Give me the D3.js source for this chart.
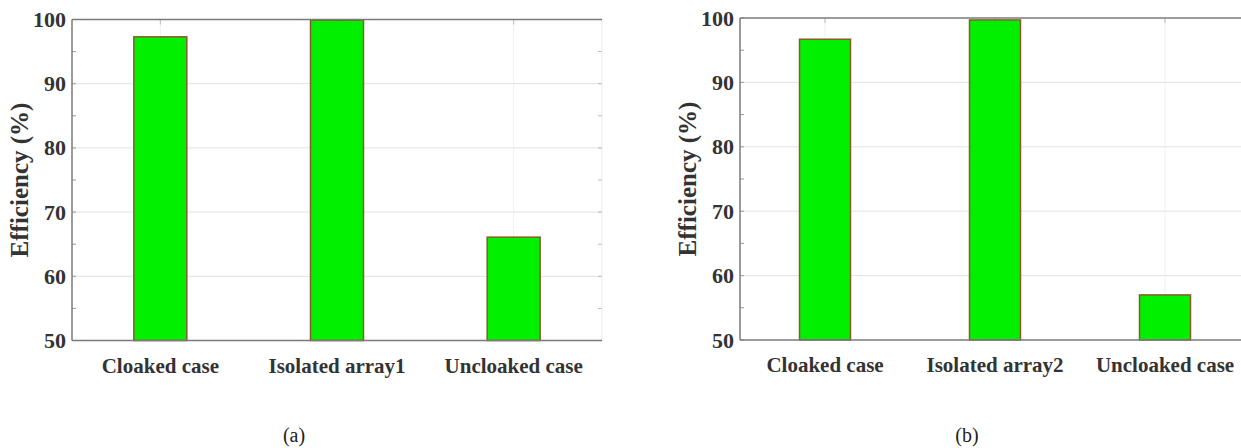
<!DOCTYPE html>
<html><head><meta charset="utf-8">
<script src="https://cdn.jsdelivr.net/npm/d3@7"></script>
<style>body{margin:0;background:#fff}svg{display:block}</style>
</head><body>
<svg id="chart" width="1241" height="448"></svg>
<script>
const categoriesA = ["Cloaked case", "Isolated array1", "Uncloaked case"];
const valuesA = [97.3, 99.9, 66.1];
const categoriesB = ["Cloaked case", "Isolated array2", "Uncloaked case"];
const valuesB = [96.7, 99.7, 57.0];
const yTicks = [50, 60, 70, 80, 90, 100];
const yTitle = "Efficiency (%)";
const captions = ["(a)", "(b)"];

const svg = d3.select("#chart");
const font = "'Liberation Serif','Times New Roman',serif";

function panel(cats, vals, box, caption, capX) {
  const g = svg.append("g");
  const x = d3.scaleBand().domain(cats).range([box.l, box.r]).paddingInner(0.7).paddingOuter(0.35);
  const y = d3.scaleLinear().domain([50, 100]).range([box.b, box.t]);
  g.selectAll(".hg").data(yTicks.filter(d => d > 50 && d < 100)).enter().append("line")
    .attr("x1", box.l).attr("x2", box.r).attr("y1", d => y(d)).attr("y2", d => y(d))
    .attr("stroke", "#e2e2e2").attr("stroke-width", 1);
  g.selectAll(".vg").data(cats).enter().append("line")
    .attr("x1", d => x(d) + x.bandwidth() / 2).attr("x2", d => x(d) + x.bandwidth() / 2)
    .attr("y1", box.t).attr("y2", box.b).attr("stroke", "#f0f0f0").attr("stroke-width", 1);
  g.append("line").attr("x1", box.r).attr("x2", box.r).attr("y1", box.t).attr("y2", box.b)
    .attr("stroke", "#ececec");
  const minor = d3.range(50, 100.01, 5);
  g.selectAll(".mt").data(minor).enter().append("line")
    .attr("x1", box.l).attr("x2", box.l + 4).attr("y1", d => y(d)).attr("y2", d => y(d))
    .attr("stroke", "#999");
  g.selectAll(".mtr").data(minor).enter().append("line")
    .attr("x1", box.r - 4).attr("x2", box.r).attr("y1", d => y(d)).attr("y2", d => y(d))
    .attr("stroke", "#bbb");
  g.selectAll(".tt").data(cats).enter().append("line")
    .attr("x1", d => x(d) + x.bandwidth() / 2).attr("x2", d => x(d) + x.bandwidth() / 2)
    .attr("y1", box.t).attr("y2", box.t + 5).attr("stroke", "#bbb");
  g.selectAll(".bar").data(vals).enter().append("rect")
    .attr("x", (d, i) => x(cats[i]))
    .attr("width", x.bandwidth())
    .attr("y", d => y(d))
    .attr("height", d => y(50) - y(d))
    .attr("fill", "#00f000").attr("stroke", "#8a5a2a").attr("stroke-width", 1.5);
  g.append("line").attr("x1", box.l).attr("x2", box.r).attr("y1", box.t).attr("y2", box.t)
    .attr("stroke", "#7a7a7a").attr("stroke-width", 1.5);
  g.append("line").attr("x1", box.l).attr("x2", box.r).attr("y1", box.b).attr("y2", box.b)
    .attr("stroke", "#7a7a7a").attr("stroke-width", 1.5);
  g.append("line").attr("x1", box.l).attr("x2", box.l).attr("y1", box.t).attr("y2", box.b)
    .attr("stroke", "#7a7a7a").attr("stroke-width", 1.5);
  g.selectAll(".yl").data(yTicks).enter().append("text")
    .attr("x", box.l - 6).attr("y", d => y(d) + 7.5)
    .attr("text-anchor", "end").attr("font-family", font).attr("font-weight", "bold")
    .attr("font-size", 22).attr("fill", "#333").text(d => d);
  g.selectAll(".xl").data(cats).enter().append("text")
    .attr("x", d => x(d) + x.bandwidth() / 2).attr("y", box.b + 32)
    .attr("text-anchor", "middle").attr("font-family", font).attr("font-weight", "bold")
    .attr("font-size", 21).attr("fill", "#333").text(d => d);
  g.append("text")
    .attr("transform", `translate(${box.l - 44},${(box.t + box.b) / 2}) rotate(-90)`)
    .attr("text-anchor", "middle").attr("font-family", font).attr("font-weight", "bold")
    .attr("font-size", 25).attr("fill", "#333").text(yTitle);
  svg.append("text").attr("x", capX).attr("y", 442).attr("text-anchor", "middle")
    .attr("font-family", font).attr("font-size", 20).attr("fill", "#222").text(caption);
}

panel(categoriesA, valuesA, {l: 72, r: 602, t: 19.5, b: 340.5}, captions[0], 294);
panel(categoriesB, valuesB, {l: 740, r: 1250, t: 18, b: 340}, captions[1], 967);
</script>
</body></html>
